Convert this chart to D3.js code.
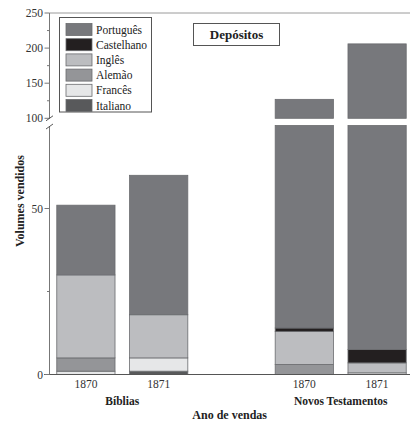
<!DOCTYPE html>
<html><head><meta charset="utf-8">
<script src="https://cdn.jsdelivr.net/npm/d3@7"></script>
<style>body{margin:0;background:#fff}svg{display:block}text{font-family:"Liberation Serif","Times New Roman",serif}</style>
</head><body><svg id="c" width="410" height="421"></svg>
<script>
const years = ["1870","1871","1870","1871"];
const groups = ["Bíblias","Novos Testamentos"];
const groupOf = [0,0,1,1];
const slots = [0,1,3,4];
const seriesNames = ["Italiano","Francês","Alemão","Inglês","Castelhano","Português"];
const italiano   = [0, 1, 0, 0];
const frances    = [1, 4, 0, 0.5];
const alemao     = [4, 0, 3, 0];
const ingles     = [25, 13, 10, 3];
const castelhano = [0, 0, 1, 4];
const portugues  = [21, 42, 113, 198.5];
const seriesValues = [italiano, frances, alemao, ingles, castelhano, portugues];
const colors = {"Português":"#77787c","Castelhano":"#231f20","Inglês":"#bcbdc0","Alemão":"#949598","Francês":"#e6e7e8","Italiano":"#58595b"};
const legendOrder = ["Português","Castelhano","Inglês","Alemão","Francês","Italiano"];
const lowTicks = [0,25,50];
const highTicks = [100,125,150,175,200,225,250];

const svg = d3.select("#c");
const x = d3.scaleLinear().domain([-0.5,4.5]).range([49.5,413.5]);
const step = x(1)-x(0);
const bw = step*0.8;
const yLow = d3.scaleLinear().domain([0,75]).range([374.5,125.5]);
const yHigh = d3.scaleLinear().domain([100,250]).range([118.3,13]);

// stacked data
const stack = years.map((yr,i)=>{
  let acc=0; const segs=[];
  seriesNames.forEach((s,k)=>{const v=seriesValues[k][i]; segs.push({s,y0:acc,y1:acc+v}); acc+=v;});
  return segs;
});
function parts(y0,y1){
  const p=[];
  if(y1<=y0) return p;
  if(y0<75) p.push([yLow(Math.min(y1,75)), yLow(y0)]);
  if(y1>100) p.push([yHigh(y1), yHigh(Math.max(y0,100))]);
  return p;
}
const g = svg.append("g");
stack.forEach((segs,i)=>{
  segs.forEach(sg=>{
    parts(sg.y0,sg.y1).forEach(([top,bot])=>{
      g.append("rect").attr("x",x(slots[i])-bw/2).attr("width",bw)
       .attr("y",top).attr("height",Math.max(0.5,bot-top))
       .attr("fill",colors[sg.s]).attr("stroke","#6a6b6e").attr("stroke-width",0.8);
    });
  });
});

// top border
svg.append("line").attr("x1",49.5).attr("x2",410).attr("y1",13).attr("y2",13).attr("stroke","#9a9a9a").attr("stroke-width",1);
// x axis line
svg.append("line").attr("x1",44).attr("x2",410).attr("y1",374.5).attr("y2",374.5).attr("stroke","#555").attr("stroke-width",1);

// y axes
const axCol="#777";
function drawAxis(scale,ticks,major,y1,y2){
  svg.append("line").attr("x1",49.5).attr("x2",49.5).attr("y1",y1).attr("y2",y2).attr("stroke",axCol);
  ticks.forEach(t=>{
    const yy=scale(t); const isMaj=major.includes(t);
    svg.append("line").attr("x1",isMaj?44.5:47).attr("x2",49.5).attr("y1",yy).attr("y2",yy).attr("stroke",axCol);
    if(isMaj) svg.append("text").attr("x",43).attr("y",yy+4).attr("text-anchor","end").attr("font-size",11.5).attr("fill","#333").text(t);
  });
}
drawAxis(yLow,lowTicks,[0,50],yLow(75)+1,374.5);
drawAxis(yHigh,highTicks,[100,150,200,250],13,yHigh(100));
// break marks
[[yHigh(100)],[yLow(75)+1]].forEach(([yy])=>{
  svg.append("line").attr("x1",46).attr("x2",53).attr("y1",yy+2.5).attr("y2",yy-2.5).attr("stroke","#444").attr("stroke-width",0.9);
});

// x labels
years.forEach((yr,i)=>{
  svg.append("text").attr("x",x(slots[i])).attr("y",388).attr("text-anchor","middle").attr("font-size",11.5).attr("fill","#333").text(yr);
});
groups.forEach((gname,gi)=>{
  const idx = slots.filter((s,i)=>groupOf[i]===gi);
  const cx = (x(idx[0])+x(idx[idx.length-1]))/2;
  svg.append("text").attr("x",cx).attr("y",405).attr("text-anchor","middle").attr("font-size",11.5).attr("font-weight","bold").attr("fill","#222").text(gname);
});
svg.append("text").attr("x",229.7).attr("y",419).attr("text-anchor","middle").attr("font-size",12).attr("font-weight","bold").attr("fill","#222").text("Ano de vendas");
svg.append("text").attr("transform","translate(24,201) rotate(-90)").attr("text-anchor","middle").attr("font-size",12).attr("font-weight","bold").attr("fill","#222").text("Volumes vendidos");

// legend
const lg = svg.append("g");
lg.append("rect").attr("x",59.5).attr("y",17.5).attr("width",92).attr("height",94.5).attr("fill","#fff").attr("stroke","#555");
legendOrder.forEach((s,i)=>{
  const yy = 23.5 + i*15.2;
  lg.append("rect").attr("x",66).attr("y",yy).attr("width",26).attr("height",12).attr("fill",colors[s]).attr("stroke","#6a6b6e").attr("stroke-width",0.8);
  lg.append("text").attr("x",96).attr("y",yy+10).attr("font-size",11.5).attr("fill","#222").text(s);
});
// title box
svg.append("rect").attr("x",193.5).attr("y",23.5).attr("width",86).attr("height",22).attr("fill","#fff").attr("stroke","#555");
svg.append("text").attr("x",236.5).attr("y",39).attr("text-anchor","middle").attr("font-size",13).attr("font-weight","bold").attr("fill","#222").text("Depósitos");
</script></body></html>
